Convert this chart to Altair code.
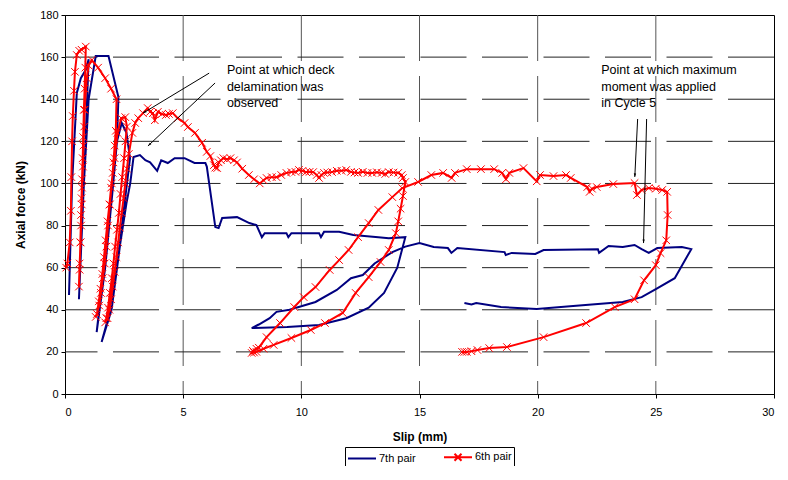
import math
import altair as alt
import pandas as pd

# ---------------- data ----------------
blue_x = [0.17, 0.3, 0.5, 0.67, 0.88, 1.0, 0.8, 0.59, 0.8, 1.0, 1.3, 1.84, 2.26, 2.2, 1.8, 1.34,
          1.7, 2.0, 2.2, 2.4, 2.6, 2.75, 2.3, 1.8, 1.55, 1.97, 2.34, 2.6, 2.76, 2.9, 3.17, 3.4,
          3.6, 3.9, 4.07, 4.35, 4.64, 5.06, 5.48, 5.94, 6.0, 6.36, 6.5, 6.65, 7.28, 7.8, 8.1,
          8.33, 8.45, 9.37, 9.45, 9.58, 10.75, 10.83, 10.96, 11.6, 12.2, 13.26, 13.7, 14.4,
          14.06, 13.5, 12.85, 11.9, 10.75, 9.4, 7.9, 8.2, 8.66, 8.95, 9.5, 10.6, 11.5, 12.1,
          12.6, 13.1, 13.85, 14.4, 15.0, 15.6, 16.2, 16.35, 16.6, 18.6, 18.65, 18.9, 19.9,
          20.25, 22.55, 22.6, 23.0, 23.6, 24.1, 24.4, 24.7, 25.06, 26.1, 26.5, 25.8, 25.0,
          24.4, 23.6, 21.5, 19.96, 18.45, 17.4, 17.2, 16.9]
blue_y = [47, 100, 143, 150, 154, 159, 100, 45, 100, 140, 160.5, 160.5, 141, 120, 75, 29.4,
          60, 95, 120, 128.7, 124, 112, 70, 35, 24.7, 40, 71.6, 90.6, 100, 112.5, 113.5, 111,
          110, 106, 111, 109.7, 112, 112, 109.7, 109.7, 108, 79.3, 78.8, 83.6, 84, 81.2, 80.2,
          74.5, 76.4, 76.4, 74.5, 76.4, 76.4, 74.5, 77, 77, 75.5, 74.5, 74, 74.5,
          60, 48, 41, 36, 32.8, 31.8, 31.3, 33, 36, 39, 40, 43.7, 49.4, 55,
          56.5, 62, 67.4, 70, 71.7, 69.8, 69.3, 67, 69.3, 67.4, 66, 67, 66.5,
          68.4, 68.8, 67, 70.3, 69.8, 70.8, 68.8, 67, 69.3, 69.8, 68.8, 55, 49.8,
          46, 43.7, 41.8, 40.4, 41.3, 43.2, 42.5, 43.2]

red_x = [0.05, 0.1, 0.2, 0.25, 0.27, 0.3, 0.33, 0.38, 0.42, 0.5, 0.6, 0.7, 0.88,
         0.86, 0.83, 0.8, 0.77, 0.75, 0.72, 0.7, 0.68, 0.65, 0.62, 0.59,
         0.62, 0.66, 0.68, 0.71, 0.72, 0.76, 0.78, 0.81, 0.83, 0.92, 1.0, 1.13,
         1.4, 1.7, 1.95, 2.18, 2.15, 2.1, 2.05, 1.98, 1.9, 1.82, 1.75, 1.68, 1.6, 1.52, 1.45, 1.3,
         1.35, 1.43, 1.5, 1.58, 1.65, 1.72, 1.8, 1.88, 1.95, 2.02, 2.1, 2.22, 2.38, 2.55, 2.62,
         2.56, 2.5, 2.42, 2.35, 2.28, 2.2, 2.12, 2.05, 1.98, 1.9, 1.82, 1.75, 1.7,
         1.8, 1.88, 1.95, 2.02, 2.1, 2.18, 2.25, 2.32, 2.4, 2.48, 2.55, 2.62, 2.7, 2.85, 2.97,
         3.1, 3.3, 3.5, 3.6, 3.72, 3.8, 3.93, 4.1, 4.27, 4.4, 4.56, 4.77, 5.06, 5.2, 5.5,
         5.8, 6.0, 6.15, 6.3, 6.36, 6.44, 6.5, 6.6, 6.7, 6.85, 7.0, 7.15, 7.28, 7.5, 7.78,
         8.0, 8.24, 8.4, 8.53, 8.75, 8.95, 9.15, 9.37, 9.58, 9.75, 9.9, 10.05, 10.2, 10.35,
         10.5, 10.65, 10.75, 10.85, 10.96, 11.1, 11.3, 11.5, 11.7, 11.9, 12.1, 12.25, 12.4,
         12.6, 12.8, 13.0, 13.2, 13.4, 13.55, 13.7, 13.9, 14.1, 14.25, 14.3, 14.4,
         14.3, 14.2, 14.1, 14.0, 13.7, 13.35, 12.85, 12.3, 11.75, 11.0, 10.4, 9.58, 8.83,
         8.4, 8.1, 8.0, 7.9, 7.95, 8.1,
         8.2, 8.53, 9.1, 9.7, 10.1, 10.6, 11.2, 11.6, 12.0, 12.4, 12.85, 13.26, 13.85, 14.27,
         14.94, 15.5, 16.0, 16.36, 16.5, 17.0, 17.6, 18.16, 18.5, 18.66, 18.8, 19.4, 19.96,
         20.1, 20.67, 21.2, 21.4, 22.1, 22.2, 22.3, 22.5, 23.2, 24.1, 24.2, 24.4, 24.7, 25.0,
         25.27, 25.48, 25.5, 25.44, 25.2, 25.0, 24.5, 24.1, 23.26, 22.05, 20.25, 18.7, 17.95,
         17.45, 17.2, 17.0, 16.9, 16.8]
red_y = [60, 62, 72, 87, 103, 120, 132, 144, 153, 161, 163, 163.5, 165,
         155, 145, 135, 122, 112, 102, 93, 85, 72, 59, 51,
         62, 72, 80, 90, 98, 108, 118, 127, 135, 150, 156, 158.6,
         155, 150, 145, 140, 125, 118, 110, 100, 90, 80, 70, 62, 55, 48, 42, 36.6,
         38, 44, 50, 57, 65, 73, 82, 90, 98, 105, 112, 124, 131, 131.5, 127,
         120, 112, 103, 95, 86, 78, 70, 62, 55, 48, 41, 36, 34,
         36, 40, 45, 51, 58, 65, 72, 79, 86, 93, 100, 107, 114, 124, 128.7,
         131, 133.4, 135.8, 134, 133.4, 130, 134, 133, 132.5, 133, 133.4, 131, 128.7, 126.8, 124,
         119.3, 115, 113, 108.7, 107.5, 107.3, 110, 111, 112, 111.5, 112, 111, 110, 107, 104,
         102, 100, 101.5, 102.6, 103, 103, 104, 105, 105.4, 105.5, 106.4, 106, 105.4, 105.5,
         105.4, 104, 102.6, 104, 105, 105.2, 105.4, 106, 106, 106.4, 105.5, 105.2, 105,
         105.5, 105, 105, 105.3, 105, 104.5, 105.4, 105.2, 105, 104, 102.6, 100.7,
         94, 88, 82, 76.4, 68.4, 62.7, 55.5, 48, 38.5, 33.7, 30.4, 26.6, 23.3,
         21.5, 20, 19.7, 19.5, 20.5, 21.5,
         22, 27, 33.7, 41.3, 46, 50.8, 58.9, 63.6, 68.4, 74.5, 81.2, 87.4, 93.5, 97.8,
         100.7, 104, 105, 102.6, 105, 106.8, 106.8, 106.8, 105, 102, 105, 107.3, 101,
         104, 103.5, 104, 102.6, 98.3, 96, 97.5, 98.3, 99.7, 100.2, 94.5, 96.9, 97.8, 97.5,
         96.9, 96, 85, 73, 66.9, 61.2, 54, 45, 41.3, 33.7, 27, 22.3, 21.8,
         20.9, 20.3, 20, 20, 20]

series_names = ["7th pair", "6th pair"]
series_colors = ["#000080", "#FF0000"]

x_ticks = [0, 5, 10, 15, 20, 25, 30]
y_ticks = [0, 20, 40, 60, 80, 100, 120, 140, 160, 180]

ann_x = [6.85, 22.69]
ann_y = [151.9, 151.9]
ann_text = ["Point at which deck\ndelamination was\nobserved",
            "Point at which maximum\nmoment was applied\nin Cycle 5"]

arr_x1 = [6.10, 6.35, 24.23, 24.61]
arr_y1 = [152.4, 147.7, 130.6, 130.6]
arr_x2 = [3.30, 3.51, 24.11, 24.48]
arr_y2 = [133.4, 117.8, 103.1, 71.7]

# ---------------- layout ----------------
PAD_L, PAD_T, PAD_R, PAD_B = 57, 7, 6, 72
W, H = 709, 379
PX_PER_X = W / 30.0
PX_PER_Y = H / 180.0

blue_df = pd.DataFrame({"x": blue_x, "y": blue_y, "i": range(len(blue_x))})
red_df = pd.DataFrame({"x": red_x, "y": red_y, "i": range(len(red_x))})
ann_df = pd.DataFrame({"x": ann_x, "y": ann_y, "t": ann_text})
arr_df = pd.DataFrame({"x": arr_x1, "y": arr_y1, "x2": arr_x2, "y2": arr_y2})
arr_df["ang"] = [
    (math.degrees(math.atan2((bx - ax) * PX_PER_X, (by - ay) * PX_PER_Y)) + 360) % 360
    for ax, ay, bx, by in zip(arr_x1, arr_y1, arr_x2, arr_y2)
]
leg_df = pd.DataFrame({"x": [0, 0], "y": [0, 0], "s": series_names})
vgrid_df = pd.DataFrame({"x": x_ticks[1:-1]})
hgrid_df = pd.DataFrame({"y": y_ticks[1:-1]})

FONT = "Liberation Sans"

xs = alt.Scale(domain=[0, 30], nice=False, zero=False)
ys = alt.Scale(domain=[0, 180], nice=False, zero=False)

def X(field="x"):
    return alt.X(f"{field}:Q", scale=xs,
                 axis=alt.Axis(values=x_ticks, title="Slip (mm)", grid=False,
                               labelPadding=8, titlePadding=14))

def Y(field="y"):
    return alt.Y(f"{field}:Q", scale=ys,
                 axis=alt.Axis(values=y_ticks, title="Axial force (kN)", grid=False,
                               labelPadding=3, titlePadding=12))

vgrid = alt.Chart(vgrid_df).mark_rule(
    color="#555", strokeWidth=1, strokeDash=[46, 15]).encode(x=X())
hgrid = alt.Chart(hgrid_df).mark_rule(
    color="#222", strokeWidth=1, strokeDash=[46, 15.5]).encode(y=Y())

blue_line = alt.Chart(blue_df).mark_line(color="#000080", strokeWidth=2).encode(
    x=X(), y=Y(), order="i:Q")
red_line = alt.Chart(red_df).mark_line(color="#FF0000", strokeWidth=2).encode(
    x=X(), y=Y(), order="i:Q")
red_pts = alt.Chart(red_df).mark_point(
    shape="M-1,-1L1,1M-1,1L1,-1", filled=False, color="#FF0000", size=56, strokeWidth=1,
    opacity=1).encode(x=X(), y=Y())

arrows = alt.Chart(arr_df).mark_rule(color="black", strokeWidth=1).encode(
    x=X(), y=Y(), x2="x2:Q", y2="y2:Q")
heads = alt.Chart(arr_df).mark_point(
    shape="M0,0L-0.9,2.8L0.9,2.8Z", filled=True, color="black", size=6.5, opacity=1
).encode(x=X("x2"), y=Y("y2"), angle=alt.Angle("ang:Q", scale=None))

texts = alt.Chart(ann_df).mark_text(
    align="left", baseline="alphabetic", font=FONT, fontSize=12.5, lineHeight=16.5,
    lineBreak="\n", color="black").encode(x=X(), y=Y(), text="t:N")

legend_layer = alt.Chart(leg_df).transform_filter("false").mark_point(
    filled=False, strokeWidth=2, opacity=1).encode(
    x=X(), y=Y(),
    color=alt.Color("s:N", scale=alt.Scale(domain=series_names, range=series_colors),
                    legend=alt.Legend(title=None)),
    shape=alt.Shape("s:N", scale=alt.Scale(
        domain=series_names,
        range=["M-1,0L3,0",
               "M-1,0L3,0M0.5,-0.5L1.5,0.5M0.5,0.5L1.5,-0.5"]),
        legend=alt.Legend(title=None)),
)

chart = alt.layer(
    vgrid, hgrid, blue_line, red_line, red_pts, arrows, heads, texts, legend_layer
).properties(
    width=W, height=H,
    padding={"left": PAD_L, "top": PAD_T, "right": PAD_R, "bottom": PAD_B},
    autosize=alt.AutoSizeParams(type="none"),
).configure_view(
    stroke="black", strokeWidth=1
).configure_axis(
    labelFont=FONT, labelFontSize=11, labelColor="black",
    titleFont=FONT, titleFontSize=12, titleFontWeight="bold", titleColor="black",
    domainColor="black", tickColor="black", tickSize=4,
).configure_legend(
    orient="none", legendX=280, legendY=432, direction="horizontal",
    strokeColor="black", padding=2, labelFont=FONT, labelFontSize=11,
    labelColor="black", symbolSize=196, symbolStrokeWidth=2, columnPadding=24,
    labelOffset=16, symbolOffset=0,
)

chart.save("out.html", embed_options={"renderer": "svg", "actions": False})
